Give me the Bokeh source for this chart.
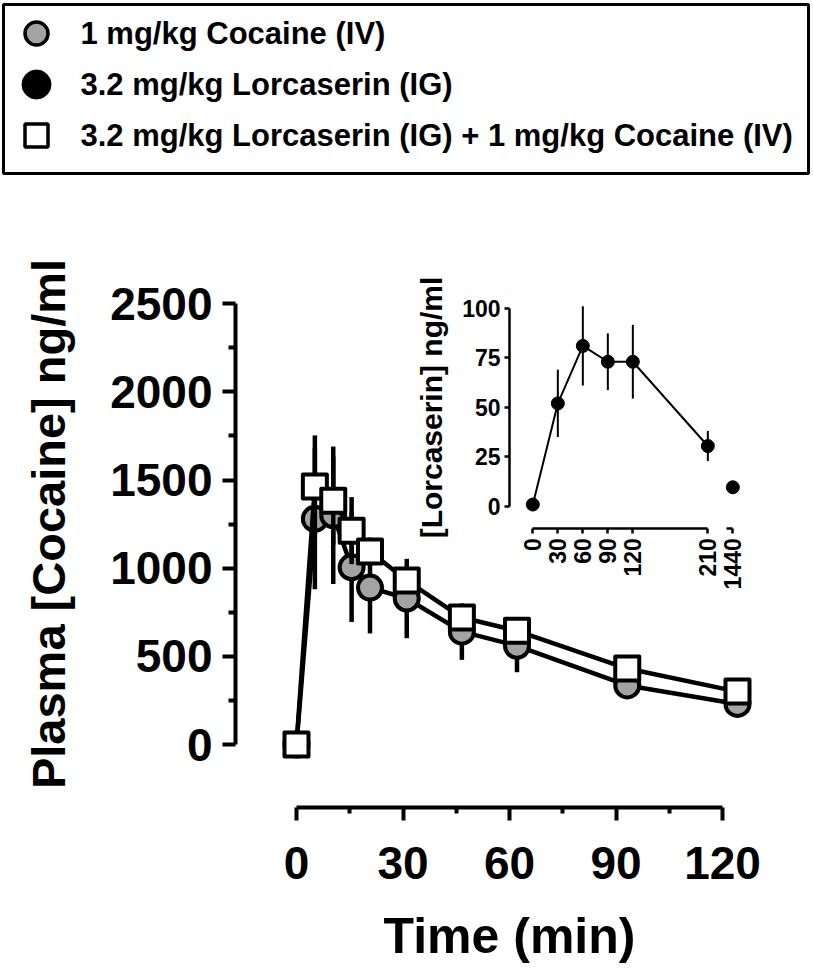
import math
from bokeh.plotting import figure
from bokeh.models import Range1d, LinearAxis, FixedTicker, ColumnDataSource
from bokeh.embed import file_html
from bokeh.resources import INLINE
from bokeh.core.properties import value

# ---------------- data ----------------
time_min = [0, 5, 10, 15, 20, 30, 45, 60, 90, 120]
cocaine_mean = [0, 1280, 1300, 1005, 890, 828, 640, 560, 335, 230]
cocaine_sem = [0, 400, 390, 310, 260, 225, 160, 150, 60, 20]
combo_mean = [0, 1463, 1383, 1213, 1095, 930, 720, 645, 431, 300]
combo_sem = [0, 290, 250, 190, 78, 60, 50, 50, 40, 30]

lorc_time = [0, 30, 60, 90, 120, 210]
lorc_mean = [1, 52, 81, 73, 73, 30.5]
lorc_sem = [0, 17, 20, 14.3, 18.6, 7.6]
lorc_late_time = [1440]
lorc_late_mean = [9.7]

main_y_ticks = [0, 500, 1000, 1500, 2000, 2500]
main_y_minor = [250, 750, 1250, 1750, 2250]
main_x_ticks = [0, 30, 60, 90, 120]
main_x_minor = [15, 45, 75, 105]
inset_y_ticks = [0, 25, 50, 75, 100]
inset_x_ticks = [0, 30, 60, 90, 120, 210]
inset_x_late_ticks = [1440]

legend_labels = ["1 mg/kg Cocaine (IV)",
                 "3.2 mg/kg Lorcaserin (IG)",
                 "3.2 mg/kg Lorcaserin (IG) + 1 mg/kg Cocaine (IV)"]
legend_rows = [0, 1, 2]

FONT_NAME = "Liberation Sans"
FONT = value(FONT_NAME)
GRAY = "#a3a3a3"

# ---------------- figure (frame covers whole canvas; all axes are fixed) ----------------
p = figure(width=813, height=968,
           x_range=Range1d(-80.54, 140.68), y_range=Range1d(-1270.4, 4219.6),
           output_backend="svg", toolbar_location=None,
           x_axis_location=None, y_axis_location=None,
           min_border=0, outline_line_color=None)
p.grid.visible = False
p.extra_x_ranges = {"ax": Range1d(-83.38, 145.63),    # drawn main time axis
                    "ix": Range1d(-638.8, 336.8),     # inset time
                    "ix2": Range1d(561.2, 1536.8),    # inset broken segment (1440)
                    "lx": Range1d(0, 813)}            # legend panel
p.extra_y_ranges = {"iy": Range1d(-233.0, 255.2),
                    "ly": Range1d(18.33, -0.647)}


def style_axis(ax, lw, tick_out, minor_out, label_size, label_standoff):
    ax.axis_line_width = lw
    ax.axis_line_color = "black"
    ax.major_tick_line_width = lw
    ax.minor_tick_line_width = lw
    ax.major_tick_out = tick_out
    ax.major_tick_in = 0
    ax.minor_tick_out = minor_out
    ax.minor_tick_in = 0
    ax.major_label_text_font = FONT_NAME
    ax.major_label_text_font_style = "bold"
    ax.major_label_text_font_size = label_size
    ax.major_label_text_color = "black"
    ax.major_label_standoff = label_standoff
    ax.axis_label_text_font = FONT_NAME
    ax.axis_label_text_font_style = "bold"
    ax.axis_label_text_color = "black"


# ---------------- legend ----------------
p.quad(left=[3], right=[808], top=[-0.569], bottom=[2.745], x_range_name="lx", y_range_name="ly",
       fill_color=None, line_color="black", line_width=3)
p.scatter(x=[36], y=[legend_rows[0]], x_range_name="lx", y_range_name="ly",
          marker="circle", size=23, fill_color=GRAY, line_color="black", line_width=3.5)
p.scatter(x=[36], y=[legend_rows[1]], x_range_name="lx", y_range_name="ly",
          marker="circle", size=29, fill_color="black", line_color="black", line_width=1)
p.scatter(x=[36], y=[legend_rows[2]], x_range_name="lx", y_range_name="ly",
          marker="square", size=23, fill_color="white", line_color="black", line_width=3.5)
p.text(x=[80] * 3, y=legend_rows, text=legend_labels, x_range_name="lx", y_range_name="ly",
       text_font=FONT, text_font_style="bold", text_font_size="31px",
       text_baseline="middle", text_color="black")

# ---------------- main axes ----------------
ya = LinearAxis(fixed_location=-16.6, bounds=(0, 2500),
                ticker=FixedTicker(ticks=main_y_ticks, minor_ticks=main_y_minor))
style_axis(ya, 4, 13, 7, "46px", 10)
ya.axis_label = "Plasma [Cocaine] ng/ml"
ya.axis_label_text_font_size = "47px"
ya.axis_label_standoff = 32
p.add_layout(ya, "left")

xa = LinearAxis(x_range_name="ax", fixed_location=-357.3, bounds=(0, 120),
                ticker=FixedTicker(ticks=main_x_ticks, minor_ticks=main_x_minor))
style_axis(xa, 4, 13, 6, "46px", 26)
xa.axis_label = "Time (min)"
xa.axis_label_text_font_size = "50px"
xa.axis_label_standoff = 26
p.add_layout(xa, "below")

# ---------------- main data ----------------
src_c = ColumnDataSource(dict(t=time_min, m=cocaine_mean,
                              lo=[m - s for m, s in zip(cocaine_mean, cocaine_sem)],
                              hi=[m + s for m, s in zip(cocaine_mean, cocaine_sem)]))
p.line("t", "m", source=src_c, line_color="black", line_width=4.5)
p.segment(x0="t", y0="lo", x1="t", y1="hi", source=src_c, line_color="black", line_width=4.5)
p.scatter("t", "m", source=src_c, marker="circle", size=24, fill_color=GRAY,
          line_color="black", line_width=4)

src_k = ColumnDataSource(dict(t=time_min, m=combo_mean,
                              lo=[m - s for m, s in zip(combo_mean, combo_sem)],
                              hi=[m + s for m, s in zip(combo_mean, combo_sem)]))
p.line("t", "m", source=src_k, line_color="black", line_width=4.5)
p.segment(x0="t", y0="lo", x1="t", y1="hi", source=src_k, line_color="black", line_width=4.5)
p.scatter("t", "m", source=src_k, marker="square", size=24, fill_color="white",
          line_color="black", line_width=4, line_join="round")

# ---------------- inset (lorcaserin) ----------------
iya = LinearAxis(x_range_name="ix", y_range_name="iy", fixed_location=-28, bounds=(0, 100),
                 ticker=FixedTicker(ticks=inset_y_ticks, minor_ticks=[]))
style_axis(iya, 2.5, 5, 0, "23px", 4)
iya.axis_label = "[Lorcaserin] ng/ml"
iya.axis_label_text_font_size = "30px"
iya.axis_label_standoff = 11
p.add_layout(iya, "left")

for rng, ticks, bnds in (("ix", inset_x_ticks, (0, 210)),
                         ("ix2", inset_x_late_ticks, (1432, 1440))):
    ixa = LinearAxis(x_range_name=rng, y_range_name="iy", fixed_location=-10.94, bounds=bnds,
                     ticker=FixedTicker(ticks=ticks, minor_ticks=[]))
    style_axis(ixa, 2.5, 5, 0, "23px", 5)
    ixa.major_label_orientation = math.pi / 2
    p.add_layout(ixa, "below")

src_l = ColumnDataSource(dict(t=lorc_time, m=lorc_mean,
                              lo=[m - s for m, s in zip(lorc_mean, lorc_sem)],
                              hi=[m + s for m, s in zip(lorc_mean, lorc_sem)]))
p.line("t", "m", source=src_l, x_range_name="ix", y_range_name="iy",
       line_color="black", line_width=2)
p.segment(x0="t", y0="lo", x1="t", y1="hi", source=src_l, x_range_name="ix", y_range_name="iy",
          line_color="black", line_width=2)
p.scatter("t", "m", source=src_l, x_range_name="ix", y_range_name="iy",
          marker="circle", size=13, fill_color="black", line_color="black", line_width=1)
p.scatter(x=lorc_late_time, y=lorc_late_mean, x_range_name="ix2", y_range_name="iy",
          marker="circle", size=13, fill_color="black", line_color="black", line_width=1)

open("out.html", "w").write(file_html(p, INLINE))
